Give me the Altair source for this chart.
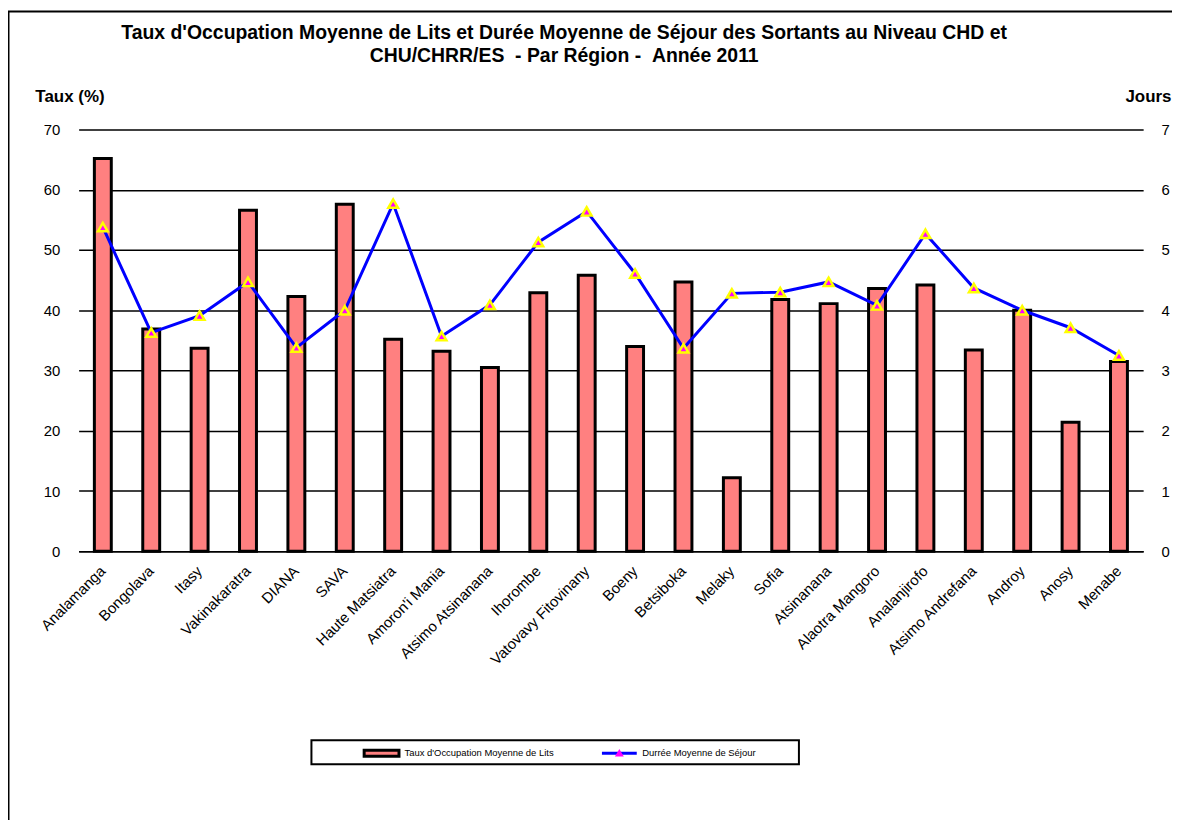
import altair as alt
import pandas as pd

regions = ["Analamanga", "Bongolava", "Itasy", "Vakinakaratra", "DIANA", "SAVA",
           "Haute Matsiatra", "Amoron'i Mania", "Atsimo Atsinanana", "Ihorombe",
           "Vatovavy Fitovinany", "Boeny", "Betsiboka", "Melaky", "Sofia", "Atsinanana",
           "Alaotra Mangoro", "Analanjirofo", "Atsimo Andrefana", "Androy", "Anosy", "Menabe"]
taux = [65.2, 36.9, 33.7, 56.6, 42.3, 57.6, 35.2, 33.2, 30.5, 42.9, 45.8,
        34.0, 44.7, 12.2, 41.8, 41.1, 43.6, 44.2, 33.4, 40.0, 21.4, 31.5]
duree = [5.38, 3.63, 3.91, 4.47, 3.38, 4.00, 5.77, 3.57, 4.09, 5.13, 5.64,
         4.61, 3.37, 4.28, 4.30, 4.47, 4.08, 5.27, 4.37, 4.00, 3.71, 3.25]
left_ticks = [0, 10, 20, 30, 40, 50, 60, 70]
right_ticks = [0, 1, 2, 3, 4, 5, 6, 7]

title_lines = ["Taux d'Occupation Moyenne de Lits et Durée Moyenne de Séjour des Sortants au Niveau CHD et",
               "CHU/CHRR/ES \u00a0- Par Région - \u00a0Année 2011"]
serie_bar = "Taux d'Occupation Moyenne de Lits"
serie_line = "Durrée Moyenne de Séjour"

df = pd.DataFrame({"region": regions, "taux": taux, "duree": duree,
                   "s1": serie_bar, "s2": serie_line, "s3": serie_line})

FONT = "Liberation Sans"
W, H = 1070, 424

x = alt.X("region:N", sort=regions,
          scale=alt.Scale(paddingInner=0, paddingOuter=0),
          axis=alt.Axis(title=None, labelAngle=-45, labelAlign="right", labelBaseline="middle",
                        labelFontSize=15, labelFont=FONT, labelColor="black", labelPadding=17,
                        ticks=False, domain=True, domainColor="black", domainWidth=1.5,
                        labelOverlap=False))

y_left = alt.Y("taux:Q", scale=alt.Scale(domain=[0, 70], nice=False),
               axis=alt.Axis(title="Taux (%)", values=left_ticks, grid=True, gridColor="black",
                             gridWidth=1.5, gridOpacity=1, ticks=False, domain=False,
                             labelPadding=19, labelFontSize=15, labelFont=FONT, labelColor="black",
                             titleAngle=0, titleX=-44, titleY=-33, titleAlign="left",
                             titleBaseline="middle", titleFontSize=17, titleFont=FONT,
                             titleFontWeight="bold", titleColor="black"))

y_right = alt.Y("duree:Q", scale=alt.Scale(domain=[0, 7], nice=False),
                axis=alt.Axis(orient="right", title="Jours", values=right_ticks, grid=False,
                              ticks=False, domain=False, labelPadding=18, labelFontSize=15,
                              labelFont=FONT, labelColor="black",
                              titleAngle=0, titleX=28, titleY=-33, titleAlign="right",
                              titleBaseline="middle", titleFontSize=17, titleFont=FONT,
                              titleFontWeight="bold", titleColor="black"))

base = alt.Chart(df).encode(x=x)

bars = base.mark_bar(size=17, stroke="black", strokeWidth=3).encode(
    y=y_left,
    fill=alt.Fill("s1:N", scale=alt.Scale(domain=[serie_bar], range=["#FF8080"]),
                  legend=alt.Legend(title=None, orient="none", legendX=285.5, legendY=608,
                                    symbolType="M-1,-0.17H1V0.17H-1Z", symbolSize=1225,
                                    symbolStrokeColor="black", symbolStrokeWidth=3,
                                    labelFontSize=9.5, labelFont=FONT, labelColor="black",
                                    labelOffset=4, padding=0)),
)

line = base.mark_line(strokeWidth=3).encode(
    y=y_right,
    stroke=alt.Stroke("s2:N", scale=alt.Scale(domain=[serie_line], range=["#0000FF"]),
                      legend=alt.Legend(title=None, orient="none", legendX=524.5, legendY=608,
                                        symbolType="stroke", symbolSize=1225,
                                        symbolStrokeWidth=3,
                                        labelFontSize=9.5, labelFont=FONT, labelColor="black",
                                        labelOffset=4, padding=0)),
)

points = base.mark_point(filled=True, size=95, fill="#FF00FF", stroke="#FFFF00",
                         strokeWidth=2.5, opacity=1).encode(
    y=y_right,
    shape=alt.Shape("s3:N", scale=alt.Scale(range=["triangle-up"]),
                    legend=alt.Legend(title=None, orient="none", legendX=537.5, legendY=620.5,
                                      symbolSize=80, symbolFillColor="#FF00FF",
                                      symbolStrokeColor="#FFFF00", symbolStrokeWidth=2.5,
                                      labelExpr="''", labelFontSize=9.5, labelFont=FONT,
                                      labelOffset=0, padding=0)),
)

one = pd.DataFrame({"k": [0]})
frame_left = alt.Chart(one).mark_rule(color="black", strokeWidth=2).encode(
    x=alt.value(-70.5), y=alt.value(-118.5), y2=alt.value(700))
frame_top = alt.Chart(one).mark_rule(color="black", strokeWidth=2).encode(
    x=alt.value(-71.5), x2=alt.value(1200), y=alt.value(-118.5))
legend_box = alt.Chart(one).mark_rect(fill="white", stroke="black", strokeWidth=2).encode(
    x=alt.value(234), x2=alt.value(724), y=alt.value(614), y2=alt.value(638))
title_text = alt.Chart(one).mark_text(
    text=title_lines, font=FONT, fontSize=19.5, fontWeight="bold", color="black",
    align="center", baseline="alphabetic", lineHeight=23
).encode(x=alt.value(488), y=alt.value(-91))

chart = alt.layer(
    frame_left, frame_top, legend_box, title_text, bars, alt.layer(line, points)
).resolve_scale(y="independent").properties(
    width=W, height=H,
    autosize=alt.AutoSizeParams(type="none"),
    padding={"left": 71, "top": 120, "right": 29, "bottom": 268},
    background="white",
).configure_view(strokeWidth=0)

chart.save("out.html", embed_options={"renderer": "svg", "actions": False})
